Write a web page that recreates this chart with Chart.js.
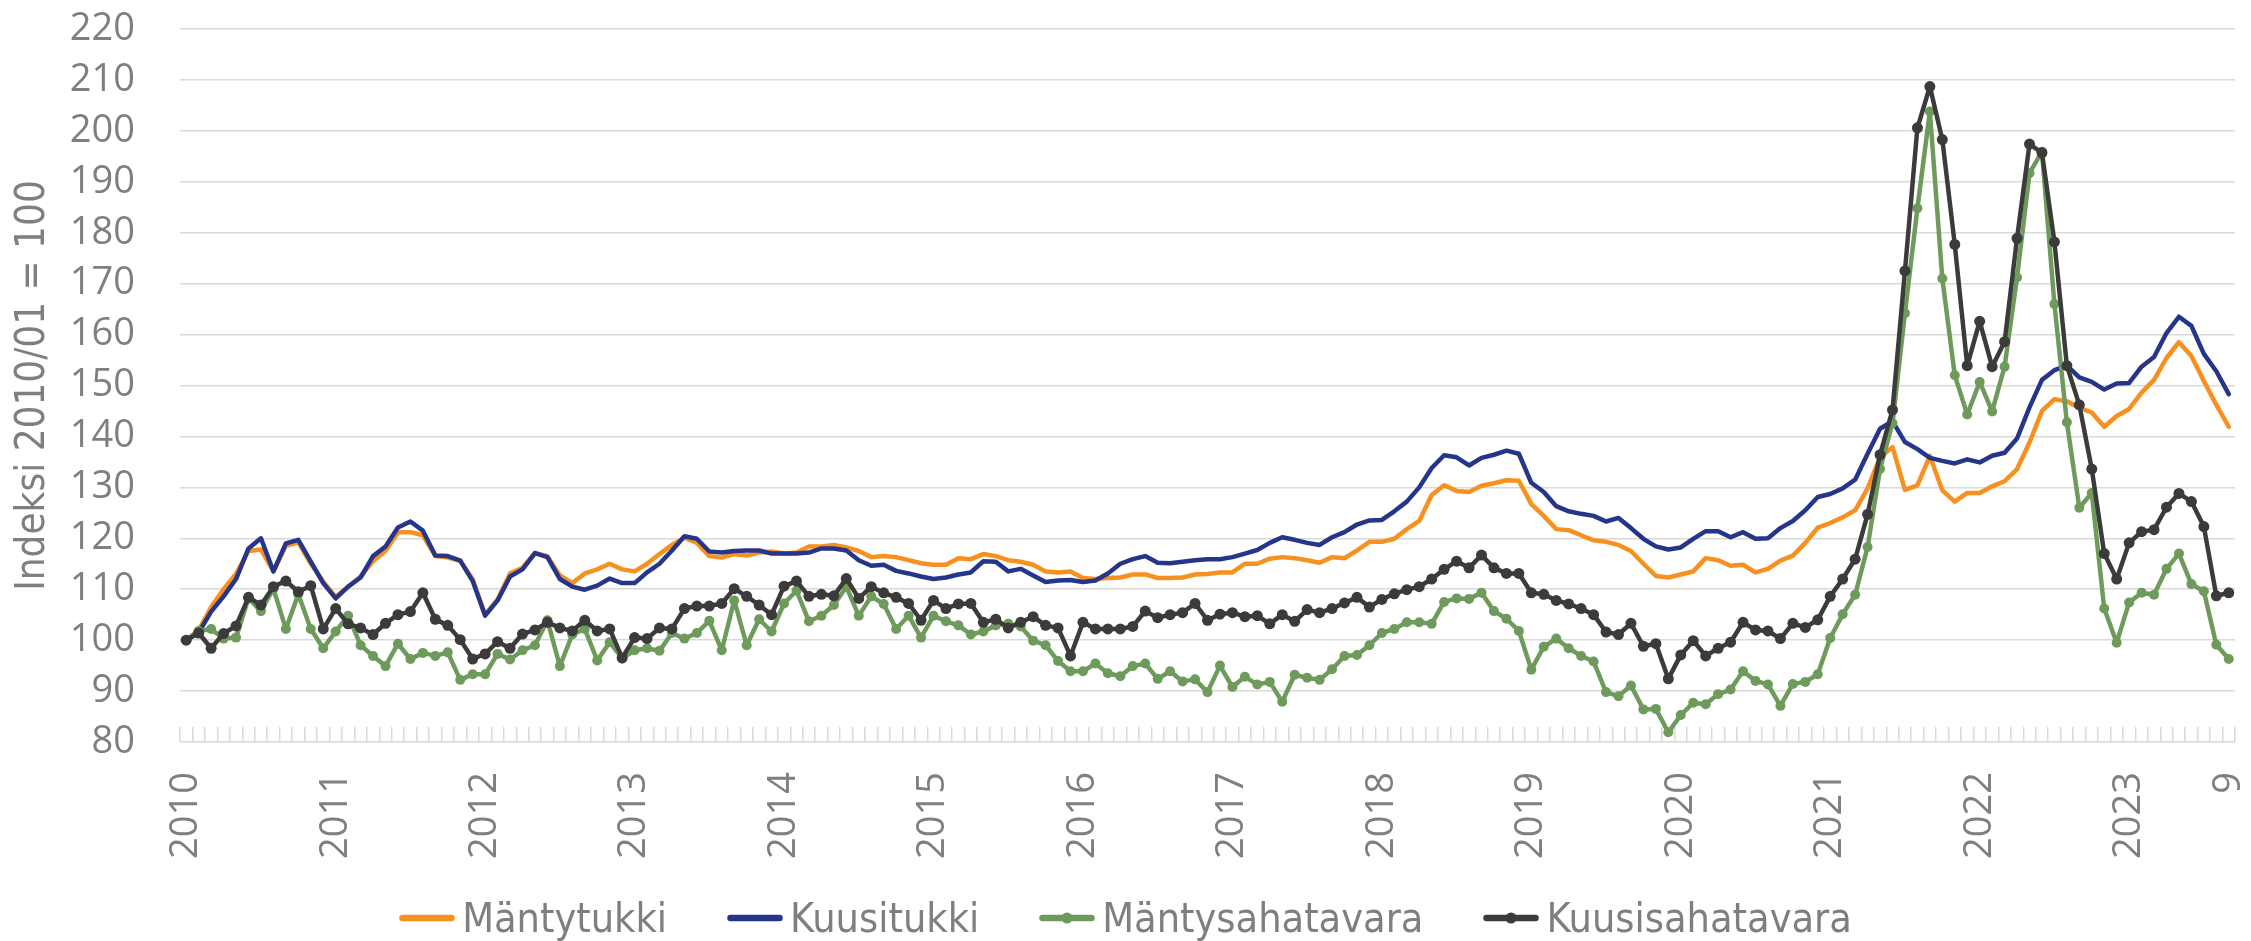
<!DOCTYPE html>
<html lang="fi">
<head>
<meta charset="utf-8">
<title>Tukki- ja sahatavaraindeksit</title>
<script src="https://cdn.jsdelivr.net/npm/chart.js@4.4.1/dist/chart.umd.min.js"></script>
<style>
  html, body { margin: 0; padding: 0; background: #fff; }
  #wrap { position: relative; width: 2251px; height: 941px; }
  #chart { display: block; }
  #legend {
    position: absolute; left: 0; top: 894px; width: 2251px;
    display: flex; justify-content: center; align-items: center;
    font-family: "DejaVu Sans Condensed", "Liberation Sans Narrow", sans-serif;
    font-size: 41px; line-height: 48px; color: #7f7f7f;
  }
  .item { display: flex; align-items: center; margin: 0 30px; }
  .item svg { margin-right: 7px; }
</style>
</head>
<body>
<div id="wrap">
  <canvas id="chart" width="2251" height="941"></canvas>
  <div id="legend"></div>
</div>
<script>
// Vuodet ja viimeinen kuukausi (2023/09)
const years = ['2010', '2011', '2012', '2013', '2014', '2015', '2016',
               '2017', '2018', '2019', '2020', '2021', '2022', '2023'];
const lastMonthLabel = '9';

// Indeksi 2010/01 = 100, kuukausittain
const mantytukki = [
  100, 102, 106.5, 110, 113, 117.5, 117.8, 113.5, 118.5, 119.2, 115, 111.5,
  108.5, 110.5, 112.5, 115.5, 117.5, 121.2, 121.2, 120.6, 116.5, 116.2, 115.6, 112,
  105, 108, 113.1, 114.2, 117.1, 116.5, 112.7, 111.2, 113.1, 113.9, 115.0, 113.9,
  113.5, 115.0, 116.9, 118.7, 120.1, 119.1, 116.5, 116.2, 116.9, 116.6, 117.2, 117.4,
  117.0, 117.2, 118.4, 118.4, 118.7, 118.2, 117.5, 116.3, 116.5, 116.3, 115.7, 115.1,
  114.8, 114.8, 116.1, 115.9, 116.9, 116.5, 115.7, 115.4, 114.8, 113.5, 113.3, 113.5,
  112.2, 112.0, 112.2, 112.3, 112.9, 112.9, 112.2, 112.2, 112.3, 112.9, 113.0, 113.3,
  113.3, 115.0, 115.0, 116.0, 116.3, 116.1, 115.7, 115.2, 116.3, 116.1, 117.6, 119.3,
  119.3, 119.9, 121.8, 123.4, 128.5, 130.4, 129.3, 129.1, 130.3, 130.8, 131.4, 131.3,
  126.7, 124.4, 121.8, 121.6, 120.6, 119.6, 119.3, 118.7, 117.5, 115.0, 112.6, 112.3,
  112.9, 113.5, 116.1, 115.7, 114.6, 114.8, 113.3, 114.0, 115.6, 116.6, 119.1, 122.1,
  123.0, 124.1, 125.5, 129.8, 135.9, 137.9, 129.5, 130.4, 136.2, 129.4, 127.2, 128.9,
  128.9, 130.2, 131.2, 133.6, 138.8, 145.0, 147.3, 146.9, 145.6, 144.7, 141.9, 144.0,
  145.4, 148.6, 151.1, 155.4, 158.5, 155.8, 150.9, 146.2, 141.9
];
const kuusitukki = [
  100, 101.5, 105.6, 108.6, 112.0, 118.0, 120.0, 113.5, 119.0, 119.7, 115.4, 111.2,
  108.2, 110.5, 112.3, 116.5, 118.4, 122.1, 123.3, 121.5, 116.6, 116.5, 115.6, 111.6,
  104.8, 107.8, 112.5, 113.9, 117.1, 116.3, 112.0, 110.5, 109.9, 110.7, 112.1, 111.2,
  111.2, 113.3, 115.0, 117.6, 120.4, 119.9, 117.4, 117.2, 117.5, 117.6, 117.6, 117.0,
  117.0, 117.0, 117.2, 118.0, 118.0, 117.6, 115.7, 114.6, 114.8, 113.6, 113.1, 112.5,
  112.0, 112.3, 112.9, 113.3, 115.5, 115.4, 113.5, 114.0, 112.7, 111.4, 111.7, 111.8,
  111.4, 111.7, 113.1, 115.0, 115.9, 116.5, 115.2, 115.1, 115.4, 115.7, 115.9, 115.9,
  116.3, 117.0, 117.7, 119.1, 120.2, 119.7, 119.1, 118.7, 120.2, 121.2, 122.7, 123.5,
  123.6, 125.3, 127.2, 130.0, 133.8, 136.3, 135.9, 134.3, 135.8, 136.4, 137.2, 136.6,
  130.9, 129.1, 126.3, 125.3, 124.8, 124.4, 123.3, 124.0, 122.0, 119.9, 118.4, 117.8,
  118.2, 119.9, 121.4, 121.4, 120.2, 121.2, 119.9, 120.0, 122.0, 123.4, 125.5, 128.1,
  128.7, 129.8, 131.5, 136.6, 141.5, 143.0, 138.9, 137.5, 135.8, 135.2, 134.7, 135.5,
  134.9, 136.2, 136.8, 139.6, 145.7, 151.1, 153.0, 153.9, 151.6, 150.7, 149.2, 150.4,
  150.5, 153.7, 155.6, 160.3, 163.5, 161.7, 156.2, 152.8, 148.3
];
const mantysahatavara = [
  100, 101.8, 102.2, 100.3, 100.5, 108.2, 105.7, 110.1, 102.2, 109.0, 102.2, 98.4,
  101.7, 104.8, 99.0, 96.9, 94.9, 99.3, 96.3, 97.5, 96.9, 97.6, 92.2, 93.3,
  93.3, 97.3, 96.2, 98.0, 99.0, 103.9, 94.9, 101.1, 102.2, 96.0, 99.6, 96.4,
  98.0, 98.4, 97.9, 101.4, 100.3, 101.4, 103.8, 98.0, 107.8, 99.0, 104.1, 101.7,
  107.2, 109.7, 103.7, 104.8, 106.9, 110.5, 104.8, 108.6, 107.1, 102.2, 104.8, 100.5,
  104.8, 103.7, 102.9, 101.1, 101.7, 102.9, 103.2, 102.7, 99.9, 99.0, 95.9, 93.9,
  93.9, 95.4, 93.5, 92.9, 94.9, 95.4, 92.4, 93.9, 91.9, 92.3, 89.8, 95.0,
  90.8, 92.8, 91.3, 91.8, 87.9, 93.2, 92.6, 92.2, 94.3, 96.9, 97.1, 99.0,
  101.4, 102.2, 103.5, 103.5, 103.2, 107.5, 108.2, 108.1, 109.3, 105.7, 104.2, 101.8,
  94.2, 98.7, 100.3, 98.4, 96.9, 95.8, 89.8, 89.0, 91.1, 86.4, 86.5, 81.9,
  85.3, 87.7, 87.4, 89.4, 90.3, 93.9, 92.0, 91.3, 87.1, 91.4, 91.8, 93.3,
  100.4, 105.1, 108.9, 118.3, 133.6, 142.6, 164.2, 184.8, 203.8, 171.0, 152.0, 144.3,
  150.7, 144.9, 153.7, 171.2, 191.7, 195.9, 166.0, 142.8, 126.0, 128.9, 106.2, 99.5,
  107.4, 109.3, 108.9, 114.0, 117.0, 111.0, 109.6, 99.1, 96.3
];
const kuusisahatavara = [
  100, 101.4, 98.4, 101.3, 102.8, 108.4, 106.9, 110.5, 111.6, 109.5, 110.7, 102.2,
  106.2, 103.2, 102.4, 101.1, 103.3, 105.0, 105.6, 109.3, 104.1, 102.9, 100.1, 96.3,
  97.3, 99.7, 98.4, 101.2, 102.0, 103.5, 102.4, 101.8, 103.9, 101.8, 102.2, 96.5,
  100.5, 100.3, 102.4, 102.2, 106.2, 106.7, 106.7, 107.2, 110.1, 108.6, 106.9, 105.0,
  110.6, 111.6, 108.6, 109.0, 108.7, 112.1, 108.2, 110.5, 109.3, 108.4, 107.2, 103.9,
  107.8, 106.2, 107.1, 107.2, 103.5, 104.1, 102.4, 103.5, 104.6, 102.9, 102.4, 96.9,
  103.5, 102.2, 102.2, 102.2, 102.7, 105.7, 104.4, 105.0, 105.4, 107.2, 103.9, 105.1,
  105.4, 104.6, 104.8, 103.2, 105.0, 103.7, 106.0, 105.4, 106.2, 107.3, 108.4, 106.5,
  108.0, 109.1, 109.9, 110.5, 112.0, 113.9, 115.5, 114.2, 116.7, 114.2, 113.1, 113.1,
  109.3, 109.0, 107.8, 107.1, 106.2, 105.0, 101.6, 101.1, 103.3, 98.8, 99.3, 92.4,
  97.1, 99.9, 96.9, 98.4, 99.6, 103.5, 102.0, 101.8, 100.3, 103.3, 102.5, 104.0,
  108.6, 112.0, 115.9, 124.7, 136.4, 145.2, 172.5, 200.6, 208.7, 198.3, 177.7, 153.9,
  162.6, 153.7, 158.6, 178.9, 197.4, 195.7, 178.2, 153.9, 146.2, 133.6, 117.0, 112.0,
  119.1, 121.3, 121.7, 126.1, 128.8, 127.2, 122.3, 108.7, 109.3
];

// Kuukausiluokat 2010/01 ... 2023/09
const months = [];
years.forEach(y => {
  for (let m = 1; m <= 12; m++) {
    if (y === '2023' && m > 9) break;
    months.push(y + '/' + String(m).padStart(2, '0'));
  }
});

const GRAY = '#7f7f7f';
const GRID = '#d9d9d9';

const series = [
  { label: 'Mäntytukki', data: mantytukki, color: '#f7901e', dots: false, radius: 0, order: 3 },
  { label: 'Kuusitukki', data: kuusitukki, color: '#24358a', dots: false, radius: 0, order: 2 },
  { label: 'Mäntysahatavara', data: mantysahatavara, color: '#6e9b5c', dots: true, radius: 5, order: 1 },
  { label: 'Kuusisahatavara', data: kuusisahatavara, color: '#3b3b3b', dots: true, radius: 5.5, order: 0 }
];

Chart.defaults.font.family = '"Open Sans", sans-serif';
Chart.defaults.color = GRAY;

const ctx = document.getElementById('chart').getContext('2d');
new Chart(ctx, {
  type: 'line',
  data: {
    labels: months,
    datasets: series.map(s => ({
      label: s.label,
      data: s.data,
      borderColor: s.color,
      backgroundColor: s.color,
      borderWidth: 4.5,
      borderJoinStyle: 'round',
      borderCapStyle: 'round',
      pointRadius: s.radius,
      pointBorderWidth: 0,
      pointBackgroundColor: s.color,
      tension: 0,
      fill: false,
      order: s.order
    }))
  },
  options: {
    responsive: false,
    animation: false,
    layout: { padding: { top: 29, right: 16, bottom: 69, left: 0 } },
    plugins: {
      legend: { display: false },
      tooltip: { enabled: false }
    },
    scales: {
      x: {
        type: 'category',
        offset: true,
        border: { display: false },
        grid: {
          offset: true,
          drawOnChartArea: false,
          drawTicks: true,
          tickLength: -15,
          color: GRID,
          lineWidth: 1.5
        },
        ticks: {
          autoSkip: false,
          minRotation: 90,
          maxRotation: 90,
          padding: 45,
          color: GRAY,
          font: { size: 38 },
          callback: (value, index) => {
            if (index === months.length - 1) return lastMonthLabel;
            const c = months[index];
            return c.endsWith('/01') ? c.slice(0, 4) : '';
          }
        },
        afterFit: scale => {
          scale.height = 130;
          scale.paddingLeft = 0;
          scale.paddingRight = 0;
        }
      },
      y: {
        min: 80,
        max: 220,
        border: { display: false },
        grid: { color: GRID, lineWidth: 1.5, drawTicks: false },
        ticks: {
          stepSize: 10,
          autoSkip: false,
          padding: 45,
          color: GRAY,
          font: { size: 38 }
        },
        title: {
          display: true,
          text: 'Indeksi 2010/01 = 100',
          color: GRAY,
          padding: { top: 10, bottom: 0 },
          font: { family: '"DejaVu Sans Condensed", "Liberation Sans Narrow", sans-serif', size: 40 }
        },
        afterFit: scale => {
          scale.width = 180;
          scale.paddingTop = 0;
          scale.paddingBottom = 0;
        }
      }
    }
  }
});

// Selite
const legend = document.getElementById('legend');
series.forEach(s => {
  const item = document.createElement('div');
  item.className = 'item';
  const dot = s.dots ? `<circle cx="28" cy="7" r="5.5" fill="${s.color}"/>` : '';
  item.innerHTML = `
    <svg width="56" height="14" viewBox="0 0 56 14">
      <line x1="3.5" y1="7" x2="52.5" y2="7" stroke="${s.color}" stroke-width="6.5" stroke-linecap="round"/>
      ${dot}
    </svg>
    <span>${s.label}</span>`;
  legend.appendChild(item);
});
</script>
</body>
</html>
